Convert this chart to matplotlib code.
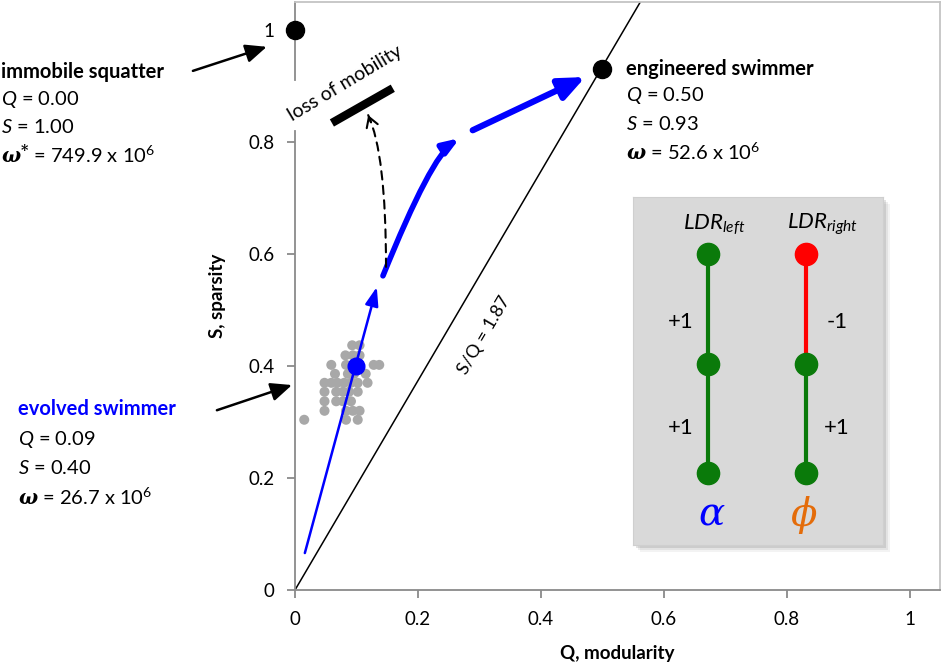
import numpy as np
import matplotlib
matplotlib.use("Agg")
import matplotlib.pyplot as plt
from matplotlib.patches import Rectangle

plt.rcParams['font.family'] = ['Lato', 'DejaVu Sans']
plt.rcParams['mathtext.fontset'] = 'custom'
plt.rcParams['mathtext.rm'] = 'Lato'
plt.rcParams['mathtext.it'] = 'Lato:italic'
plt.rcParams['mathtext.bf'] = 'DejaVu Serif:italic:bold'

# ---------------- data ----------------
x_ticks = [0, 0.2, 0.4, 0.6, 0.8, 1]
x_tick_labels = ['0', '0.2', '0.4', '0.6', '0.8', '1']
y_ticks = [0, 0.2, 0.4, 0.6, 0.8, 1]
y_tick_labels = ['0', '0.2', '0.4', '0.6', '0.8', '1']

squatter_q, squatter_s = 0.00, 1.00
engineered_q, engineered_s = 0.50, 0.93
evolved_q, evolved_s = 0.10, 0.40
ratio_sq = 1.87

cloud_q = [0.093, 0.105,
           0.082, 0.094, 0.105,
           0.059, 0.083, 0.094, 0.128, 0.137,
           0.065, 0.086, 0.096, 0.115,
           0.048, 0.059, 0.069, 0.080, 0.091, 0.102, 0.118,
           0.048, 0.067, 0.078, 0.088, 0.102,
           0.048, 0.067, 0.078, 0.091,
           0.048, 0.083, 0.094, 0.105,
           0.015, 0.083, 0.102]
cloud_s = [0.437] * 2 + [0.419] * 3 + [0.402] * 5 + [0.386] * 4 + \
          [0.370] * 7 + [0.354] * 5 + [0.337] * 4 + [0.320] * 4 + [0.304] * 3

# evolutionary path segments (tail -> head), in (Q, S)
seg1 = [(0.016, 0.066), (0.133, 0.541)]
seg2 = [(0.143, 0.561), (0.268, 0.807)]
seg3 = [(0.289, 0.821), (0.472, 0.916)]
dash_path = [(0.148, 0.577), (0.119, 0.848)]
mobility_bar_q = [0.060, 0.159]
mobility_bar_s = [0.834, 0.896]

squatter_arrow = [(-0.166, 0.927), (-0.046, 0.970)]
evolved_arrow = [(-0.127, 0.321), (-0.005, 0.366)]

# inset network
inset_cols = [0, 1]
inset_rows = [2, 1, 0]
left_node_colors = ['#0a7a0a', '#0a7a0a', '#0a7a0a']
right_node_colors = ['#ff0000', '#0a7a0a', '#0a7a0a']
left_edge_colors = ['#0a7a0a', '#0a7a0a']
right_edge_colors = ['#ff0000', '#0a7a0a']
left_edge_labels = ['+1', '+1']
right_edge_labels = ['-1', '+1']

# ---------------- figure ----------------
W, H = 943, 663
fig = plt.figure(figsize=(W / 100, H / 100), dpi=100)


def px(x, y):
    return x / W, 1 - y / H


ax = fig.add_axes([295 / W, (H - 590) / H, (940 - 295) / W, (590 - 2) / H])
ax.set_zorder(0)
ax.set_xlim(0, 1.0488)
ax.set_ylim(0, 1.05)

spine_c = '#8a8a8a'
for side in ['left', 'bottom']:
    ax.spines[side].set_color(spine_c)
    ax.spines[side].set_linewidth(1.3)
for side in ['top', 'right']:
    ax.spines[side].set_color('#c4c4c4')
    ax.spines[side].set_linewidth(1.3)
ax.spines['left'].set_bounds(0, 0.82)
ax.axvline(0, ymin=0.91 / 1.05, ymax=1, color=spine_c, lw=1.3, zorder=2.5, clip_on=False)

ax.set_xticks(x_ticks)
ax.set_xticklabels(x_tick_labels)
ax.set_yticks(y_ticks)
ax.set_yticklabels(y_tick_labels)
ax.tick_params(axis='both', direction='out', length=6, width=1.3, color=spine_c,
               labelsize=13.5, pad=9)
ax.set_xlabel('Q, modularity', fontsize=13.5, fontweight='bold', labelpad=12)
ax.set_ylabel('S, sparsity', fontsize=13.5, fontweight='bold', labelpad=16)

# S/Q line
qq = np.array([0, 1.05 / ratio_sq])
ax.plot(qq, ratio_sq * qq, color='black', lw=1.1, zorder=2)
ax.text(0.308, 0.455, 'S/Q = 1.87', fontsize=13, ha='center', va='center',
        rotation=np.degrees(np.arctan(ratio_sq)), transform_rotates_text=True,
        rotation_mode='anchor')

# gray cloud
ax.scatter(cloud_q, cloud_s, s=52, color='#a8a8a8', edgecolors='none', zorder=3)

# evolutionary path
ax.annotate('', xy=seg1[1], xytext=seg1[0],
            arrowprops=dict(arrowstyle='-|>,head_length=0.7,head_width=0.25',
                            color='#0000ff', lw=1.8, shrinkA=0, shrinkB=0,
                            mutation_scale=16), zorder=4)
ax.annotate('', xy=seg2[1], xytext=seg2[0],
            arrowprops=dict(arrowstyle='-|>,head_length=0.6,head_width=0.22',
                            color='#0000ff', lw=4, shrinkA=0, shrinkB=0,
                            mutation_scale=16,
                            connectionstyle='angle3,angleA=68,angleB=33'), zorder=4)
ax.annotate('', xy=seg3[1], xytext=seg3[0],
            arrowprops=dict(arrowstyle='-|>,head_length=0.7,head_width=0.3',
                            color='#0000ff', lw=4.5, shrinkA=0, shrinkB=0,
                            mutation_scale=22), zorder=4)

# dashed 'loss of mobility' arrow (body dashed, head solid)
ax.annotate('', xy=dash_path[1], xytext=dash_path[0],
            arrowprops=dict(arrowstyle='-', color='black', lw=1.5, linestyle=(0, (4, 3)),
                            shrinkA=0, shrinkB=0,
                            connectionstyle='angle3,angleA=90,angleB=115'), zorder=4)
tip = np.array(dash_path[1])
back = tip - np.array([-0.004, 0.012])
ax.annotate('', xy=tuple(tip), xytext=tuple(back),
            arrowprops=dict(arrowstyle='->,head_length=0.5,head_width=0.3',
                            color='black', lw=1.5, shrinkA=0, shrinkB=0,
                            mutation_scale=14), zorder=4)
ax.plot(mobility_bar_q, mobility_bar_s, color='black', lw=6, solid_capstyle='butt', zorder=4)
ax.text(0.082, 0.905, 'loss of mobility', fontsize=14, ha='center', va='center', rotation=31)

# points
ax.plot([squatter_q], [squatter_s], 'o', color='black', ms=13, zorder=6, clip_on=False)
ax.plot([engineered_q], [engineered_s], 'o', color='black', ms=13, zorder=6, clip_on=False)
ax.plot([evolved_q], [evolved_s], 'o', color='#0000ff', ms=12, zorder=6)

# pointer arrows
for arr in [squatter_arrow, evolved_arrow]:
    ax.annotate('', xy=arr[1], xytext=arr[0], annotation_clip=False,
                arrowprops=dict(arrowstyle='-|>,head_length=0.8,head_width=0.35',
                                color='black', lw=1.8, shrinkA=0, shrinkB=0,
                                mutation_scale=16))

# text blocks
fs = 14.5
def block(x, ys, lines, title_color='black'):
    for i, (y, s) in enumerate(zip(ys, lines)):
        kw = dict(fontsize=fs, ha='left', va='center')
        if i == 0:
            kw.update(fontweight='bold', color=title_color)
        fig.text(*px(x, y), s, **kw)

block(1, [72, 100, 127, 155],
      ['immobile squatter', r'$Q$ = 0.00', r'$S$ = 1.00',
       r'$\mathbf{\omega^{*}}$ = 749.9 x 10$^{6}$'])
block(626, [69, 96, 124, 152],
      ['engineered swimmer', r'$Q$ = 0.50', r'$S$ = 0.93',
       r'$\mathbf{\omega}$ = 52.6 x 10$^{6}$'])
block(18, [409, 439, 468, 497],
      ['evolved swimmer', r'$Q$ = 0.09', r'$S$ = 0.40',
       r'$\mathbf{\omega}$ = 26.7 x 10$^{6}$'], title_color='#0000ff')

# ---------------- inset ----------------
bx0, by0, bx1, by1 = 633, 197, 883, 545
for k, a in zip([7, 5, 3], [0.08, 0.12, 0.2]):
    fig.patches.append(Rectangle(px(bx0 + k, by1 + k), (bx1 - bx0) / W, (by1 - by0) / H,
                                 transform=fig.transFigure, facecolor='#707070',
                                 edgecolor='none', alpha=a, zorder=0.5))
ins = fig.add_axes([bx0 / W, (H - by1) / H, (bx1 - bx0) / W, (by1 - by0) / H])
ins.set_zorder(1)
ins.set_facecolor('#d9d9d9')
for sp in ins.spines.values():
    sp.set_color('#cfcfcf')
ins.set_xticks([])
ins.set_yticks([])
ins.set_xlim(-0.765, 1.786)
ins.set_ylim(-0.658, 2.521)

for col, ncols, ecols in [(inset_cols[0], left_node_colors, left_edge_colors),
                          (inset_cols[1], right_node_colors, right_edge_colors)]:
    for j in range(len(inset_rows) - 1):
        ins.plot([col, col], [inset_rows[j], inset_rows[j + 1]], color=ecols[j], lw=3, zorder=2)
    for j, r in enumerate(inset_rows):
        ins.plot([col], [r], 'o', color=ncols[j], ms=16, zorder=3)

ins.text(0.324, 0.922, r'$LDR_{left}$', transform=ins.transAxes, fontsize=16,
         ha='center', va='center')
ins.text(0.76, 0.922, r'$LDR_{right}$', transform=ins.transAxes, fontsize=16,
         ha='center', va='center')
for lab, y in zip(left_edge_labels, [0.641, 0.336]):
    ins.text(0.192, y, lab, transform=ins.transAxes, fontsize=16, ha='center', va='center')
for lab, y in zip(right_edge_labels, [0.641, 0.336]):
    ins.text(0.815, y, lab, transform=ins.transAxes, fontsize=16, ha='center', va='center')
ins.text(0.312, 0.085, 'α', transform=ins.transAxes, fontsize=28, color='#0000ff',
         family='DejaVu Serif', style='italic', ha='center', va='center')
ins.text(0.684, 0.085, 'ϕ', transform=ins.transAxes, fontsize=28, color='#e46c0a',
         family='DejaVu Serif', style='italic', ha='center', va='center')

fig.savefig('out.png', dpi=100)
